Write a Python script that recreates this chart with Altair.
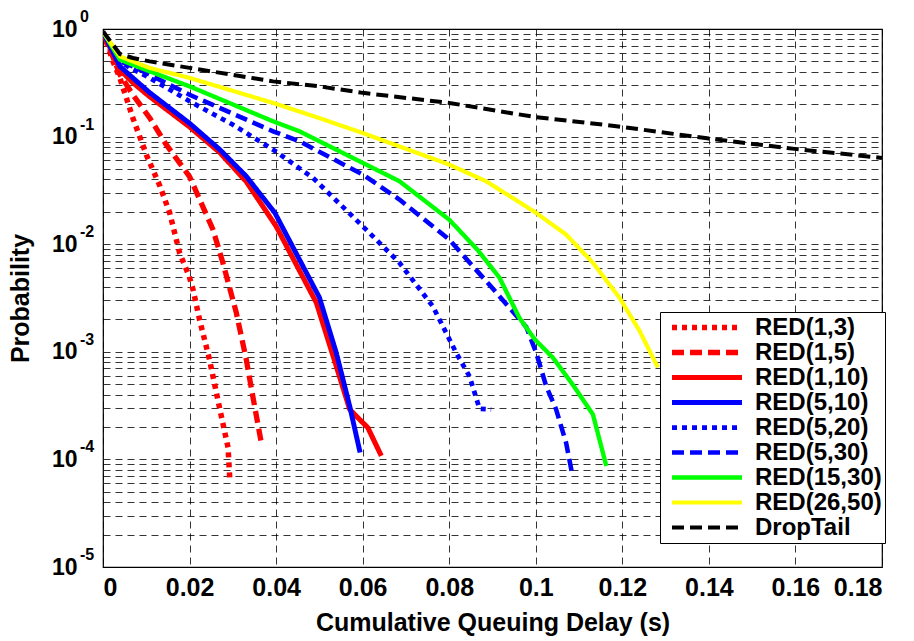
import altair as alt
import pandas as pd

# ---- data (x: delay in s, y: probability) ----
series_names = ["RED(1,3)", "RED(1,5)", "RED(1,10)", "RED(5,10)", "RED(5,20)",
                "RED(5,30)", "RED(15,30)", "RED(26,50)", "DropTail"]

red13_x = [0.0, 0.0023, 0.0039, 0.0069, 0.0100, 0.0131, 0.0154, 0.0177, 0.0199, 0.0208, 0.0223, 0.0246, 0.0269, 0.0289, 0.0293]
red13_y = [0.94, 0.50, 0.351, 0.149, 0.068, 0.0351, 0.0196, 0.0083, 0.00505, 0.00379, 0.0020, 0.00085, 0.000305, 0.000129, 0.0000653]

red15_x = [0.0, 0.0039, 0.0069, 0.0108, 0.0146, 0.0200, 0.0254, 0.0277, 0.0308, 0.0331, 0.0346, 0.0366]
red15_y = [0.94, 0.377, 0.245, 0.149, 0.0843, 0.0425, 0.0137, 0.00672, 0.00231, 0.00085, 0.000388, 0.000141]

red110_x = [0.0, 0.0039, 0.0069, 0.0108, 0.0199, 0.0270, 0.0331, 0.0400, 0.0493, 0.0539, 0.0570, 0.0585, 0.0612, 0.0643]
red110_y = [0.94, 0.419, 0.317, 0.235, 0.124, 0.071, 0.0382, 0.0147, 0.00286, 0.000736, 0.000292, 0.000253, 0.000197, 0.000108]

red510_x = [0.0, 0.0039, 0.0069, 0.0108, 0.0199, 0.0270, 0.0331, 0.0397, 0.0500, 0.0539, 0.0570, 0.0594]
red510_y = [0.94, 0.45, 0.351, 0.256, 0.134, 0.0757, 0.0428, 0.0196, 0.0032, 0.00098, 0.000313, 0.000116]

red520_x = [0.0, 0.0035, 0.0062, 0.0108, 0.0200, 0.0300, 0.0393, 0.0485, 0.0600, 0.0685, 0.0762, 0.0816, 0.0847, 0.0870, 0.0897]
red520_y = [0.94, 0.52, 0.435, 0.351, 0.213, 0.129, 0.0757, 0.0414, 0.0147, 0.00672, 0.00265, 0.00098, 0.00059, 0.000296, 0.000292]

red530_x = [0.0, 0.0039, 0.0069, 0.0200, 0.0393, 0.0454, 0.0600, 0.0685, 0.0800, 0.0916, 0.0978, 0.1001, 0.1024, 0.1047, 0.1070, 0.1085]
red530_y = [0.94, 0.50, 0.45, 0.245, 0.112, 0.0904, 0.0444, 0.026, 0.01106, 0.00329, 0.0017, 0.00098, 0.00048, 0.000292, 0.000143, 0.0000701]

red1530_x = [0.0, 0.0039, 0.0108, 0.0200, 0.0393, 0.0454, 0.0600, 0.0685, 0.0800, 0.0865, 0.0916, 0.0962, 0.0998, 0.1039, 0.1085, 0.1132, 0.1163]
red1530_y = [0.94, 0.519, 0.404, 0.293, 0.1387, 0.112, 0.057, 0.0385, 0.0169, 0.0089, 0.0049, 0.00207, 0.0013, 0.000887, 0.000498, 0.000262, 0.0000869]

red2650_x = [0.0, 0.0039, 0.0108, 0.0200, 0.0393, 0.0500, 0.0600, 0.0800, 0.0885, 0.0998, 0.1070, 0.1132, 0.1193, 0.1240, 0.1282]
red2650_y = [0.94, 0.557, 0.434, 0.351, 0.2056, 0.1485, 0.108, 0.0549, 0.0385, 0.0199, 0.0123, 0.00672, 0.0032, 0.00156, 0.000716]

drop_x = [0.0, 0.0039, 0.0069, 0.0108, 0.0200, 0.0393, 0.0500, 0.0600, 0.0800, 0.0998, 0.1186, 0.1400, 0.1598, 0.1800]
drop_y = [0.95, 0.586, 0.538, 0.50, 0.435, 0.326, 0.293, 0.255, 0.2056, 0.152, 0.125, 0.0958, 0.0769, 0.0634]

all_x = [red13_x, red15_x, red110_x, red510_x, red520_x, red530_x, red1530_x, red2650_x, drop_x]
all_y = [red13_y, red15_y, red110_y, red510_y, red520_y, red530_y, red1530_y, red2650_y, drop_y]

colors = ["#ff0000", "#ff0000", "#ff0000", "#0000ff", "#0000ff", "#0000ff", "#00ff00", "#ffff00", "#000000"]
dashes = [[5, 5], [12, 6], [1, 0], [1, 0], [5, 5], [12, 6], [1, 0], [1, 0], [12, 6]]
widths = [5.5, 4, 7, 4, 5.5, 4, 4, 4, 4.5]

x_ticks = [0, 0.02, 0.04, 0.06, 0.08, 0.1, 0.12, 0.14, 0.16, 0.18]
decades = [1, 0.1, 0.01, 0.001, 0.0001, 0.00001]
exponents = ["0", "-1", "-2", "-3", "-4", "-5"]
y_grid = [k * d for d in decades[1:] for k in range(1, 10)] + [1]

rows = []
for name, xs, ys in zip(series_names, all_x, all_y):
    for i, (xv, yv) in enumerate(zip(xs, ys)):
        rows.append({"series": name, "x": xv, "y": yv, "order": i})
df = pd.DataFrame(rows)
exp_df = pd.DataFrame({"y": decades, "exp": exponents})

FONT = "Liberation Sans"

xscale = alt.Scale(domain=[0, 0.18], nice=False, zero=False)
yscale = alt.Scale(type="log", domain=[1e-5, 1], nice=False)

lines = alt.Chart(df).mark_line(strokeCap="butt", strokeJoin="round", clip=True).encode(
    x=alt.X("x:Q", scale=xscale,
            axis=alt.Axis(values=x_ticks, format="~g", title="Cumulative Queuing Delay (s)",
                          labelFontSize=25, labelPadding=8, tickSize=0, domain=False,
                          grid=True, gridDash=[7, 5], gridColor="#000000", gridWidth=0.8,
                          titleFontSize=25, titlePadding=10)),
    y=alt.Y("y:Q", scale=yscale,
            axis=alt.Axis(values=y_grid,
                          labelExpr="abs(log(datum.value)/log(10) - round(log(datum.value)/log(10))) < 0.000001 ? '10' : ''",
                          title="Probability", labelFontSize=23, labelPadding=26, tickSize=0,
                          domain=False, grid=True, gridDash=[7, 5], gridColor="#000000",
                          gridWidth=0.8, titleFontSize=25, titlePadding=18, labelOverlap=False,
                          labelBaseline="middle")),
    color=alt.Color("series:N", scale=alt.Scale(domain=series_names, range=colors),
                    sort=series_names,
                    legend=alt.Legend(title=None, orient="none", legendX=557, legendY=283,
                                      symbolType="stroke", symbolSize=4900,
                                      labelFontSize=24, labelFont=FONT, labelFontWeight="bold",
                                      clipHeight=25, rowPadding=0, padding=3,
                                      symbolOffset=6, labelOffset=10,
                                      fillColor="white", strokeColor="black",
                                      cornerRadius=0)),
    strokeDash=alt.StrokeDash("series:N", scale=alt.Scale(domain=series_names, range=dashes),
                              sort=series_names, legend=alt.Legend(title=None)),
    strokeWidth=alt.StrokeWidth("series:N", scale=alt.Scale(domain=series_names, range=widths),
                                sort=series_names, legend=alt.Legend(title=None)),
    order="order:Q",
)

exps = alt.Chart(exp_df).mark_text(align="left", baseline="alphabetic", dy=-7,
                                   fontSize=16, font=FONT, fontWeight="bold",
                                   color="black").encode(
    x=alt.value(-23),
    y=alt.Y("y:Q", scale=yscale),
    text="exp:N",
)

chart = alt.layer(lines, exps).properties(
    width=779, height=538,
    autosize=alt.AutoSizeParams(type="none"),
    padding={"left": 103, "top": 29, "right": 32, "bottom": 74},
).configure_view(
    stroke="black", strokeWidth=1.2
).configure_axis(
    labelFont=FONT, titleFont=FONT, labelFontWeight="bold", titleFontWeight="bold",
    labelColor="black", titleColor="black",
)

chart.save("out.html", embed_options={"renderer": "svg", "actions": False})
